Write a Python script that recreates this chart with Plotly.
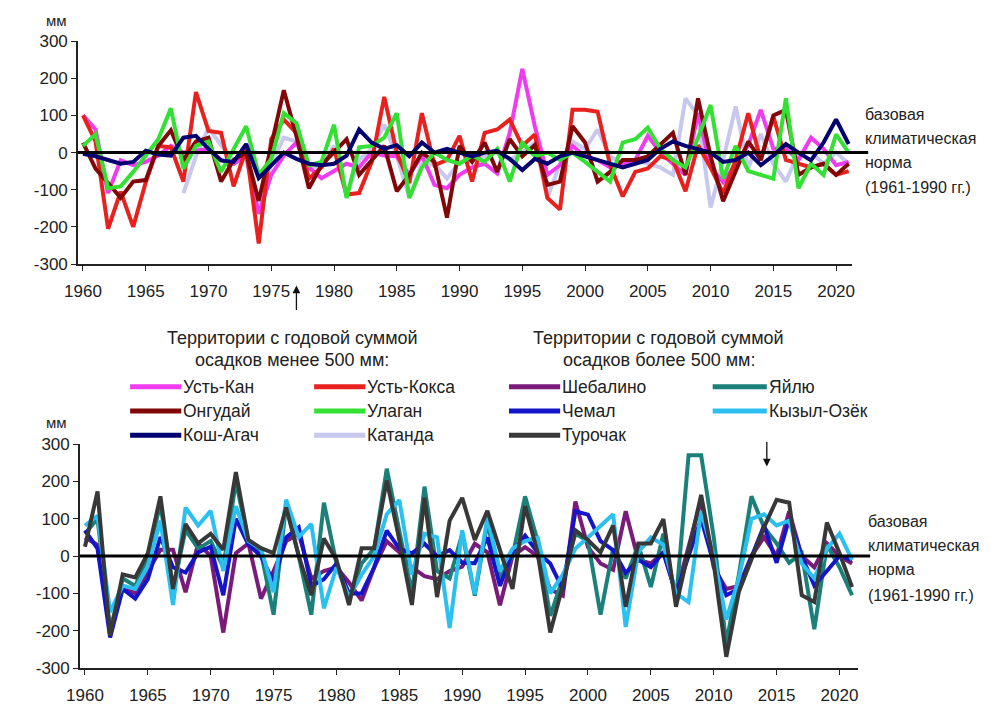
import plotly.graph_objects as go

years = list(range(1960, 2022))
tick_years = [1960, 1965, 1970, 1975, 1980, 1985, 1990, 1995, 2000, 2005, 2010, 2015, 2020]
y_ticks = [-300, -200, -100, 0, 100, 200, 300]
y_tick_text = ["-300", "-200", "-100", "0", "100", "200", "300"]

# ---- Territories < 500 mm (top panel) ----
ust_kan = [100, 62, -109, -21, -34, -25, -8, 18, 0, 5,
           10, -20, -30, -10, -165, -60, -8, 27, -40, -69,
           -50, -30, -40, 0, -8, -10, -60, -8, -87, -96,
           -60, -40, -30, -56, 53, 225, 71, -60, -34, 18,
           -10, -20, -40, -30, -20, 45, 0, -30, -60, 106,
           -40, -80, -30, 20, 115, 10, 10, -20, 40, 10,
           -34, -25]
ust_koksa = [100, 30, -205, -105, -200, -80, 18, 14, -78, 163,
             58, 53, -91, 10, -245, 36, 89, 53, -70, -40,
             10, -113, -109, -25, 150, 0, -82, 106, -34, -20,
             45, -78, 53, 62, 89, 18, 49, -122, -153, 115,
             115, 110, -34, -118, -52, -43, -10, -20, -104, 20,
             -40, -110, -20, 106, -20, 97, -20, -30, -40, -30,
             -60, -50]
ongudai = [27, -43, -82, -122, -78, -74, 18, 60, -20, 30,
           40, -78, -20, 0, -130, 18, 168, 45, -96, -34,
           0, 36, -60, -20, 18, -104, -60, 0, -25, -175,
           18, -25, 27, -52, 36, -10, 20, -87, -78, 71,
           27, -78, -52, -20, -20, -10, 20, 53, -60, 146,
           -10, -131, -50, 30, -20, 100, 115, -60, -40, -30,
           -60, -30]
ulagan = [18, 49, -96, -91, -52, -8, 36, 119, -43, 18,
          30, -52, 10, 71, -60, -17, 106, 80, -34, -25,
          75, -122, 14, 18, 40, 106, -122, -40, 0, -20,
          -30, -8, -25, 10, -78, 27, -10, 0, -20, 0,
          -25, -52, -78, 27, 36, 67, 10, -20, -40, 40,
          128, -70, 18, -50, -60, -70, 146, -96, -30, -60,
          49, 0]
kosh_agach = [-3, -10, -20, -30, -25, 5, -5, -8, 40, 45,
              10, -21, -25, 23, -69, -34, 0, -17, -30, -34,
              -30, -8, 62, 27, 10, 20, -10, 27, 0, 10,
              0, -10, 0, 5, -17, -47, -17, -30, -10, 0,
              -10, -20, -30, -40, -30, -20, 10, 30, 18, 10,
              0, -25, -20, 0, -34, -8, 23, 0, -21, 27,
              89, 23]
katanda = [None, None, None, None, None, None, None, None, -109, -10,
           67, 20, -20, -17, -160, -30, 40, 30, -43, -34,
           18, -118, -20, 10, 75, -8, -122, -30, -30, -70,
           -25, -20, -10, 0, -20, 0, 27, -122, -30, 30,
           10, 62, -10, -30, -20, -30, -40, -60, 146, 100,
           -148, -20, 124, -43, 50, -30, -78, 0, 0, -30,
           0, -30]

# ---- Territories > 500 mm (bottom panel) ----
shebalino = [50, 30, -200, -80, -100, -40, 17, 17, -97, 34,
             0, -205, 8, 34, -114, -40, 40, 60, -60, -40,
             -30, -71, -119, -30, 40, 10, -30, -54, -62, -40,
             -28, 33, 10, -132, 0, 24, 0, -89, -106, 146,
             24, -20, -37, 120, -10, -20, 10, -100, 20, 150,
             -30, -88, -80, 0, 51, 0, 120, 0, -30, 34,
             0, -20]
yaylyu = [60, 100, -200, -60, -80, 0, 140, -90, 70, 20,
          40, -30, 200, 40, 10, -157, 138, 0, -157, 143,
          -20, -114, -20, 20, 234, 60, -100, 186, -40, -60,
          60, -106, 90, -60, 0, 160, 40, -160, -60, 60,
          40, -157, 20, -60, 30, -83, 60, -120, 270, 270,
          51, -235, -50, 160, 77, 34, -18, 8, -196, 30,
          -30, -105]
chemal = [69, 20, -218, -88, -114, -62, 51, -30, -44, 10,
          25, -105, 100, 30, 0, -70, 50, 77, -80, -62,
          -20, -100, -100, -30, 68, 20, 7, 33, 0, 16,
          -18, -19, 50, -80, 10, 55, 10, -20, -89, 120,
          111, 40, 16, -45, -10, -30, 10, -100, 0, 100,
          -20, -105, -88, 0, 82, -18, 100, 0, -79, -40,
          0, -10]
kyzyl_ozek = [82, 108, -150, -79, -88, -27, 95, -131, 130, 82,
              121, -40, 134, 40, 20, -97, 151, 51, 86, -140,
              -30, -110, -50, 0, 112, 150, -50, 60, 50, -193,
              69, -102, 103, -40, 20, 40, 50, -100, -50, 20,
              50, 80, 112, -190, 10, 50, 30, -100, -123, 120,
              0, -170, -60, 100, 112, 82, 95, -20, -60, 20,
              60, -10]
turochak = [25, 173, -214, -49, -57, 8, 160, -88, 86, 34,
            60, 17, 225, 43, 21, 8, 130, 0, -105, 47,
            -10, -131, 21, 21, 203, 43, -131, 156, -110, 95,
            156, 43, 121, 20, -88, 134, 8, -205, -79, 69,
            43, 10, 82, -136, 34, 34, 99, -136, 10, 164,
            -20, -270, -96, -10, 77, 151, 143, -105, -123, 90,
            8, -83]

top_series = [
    ("Усть-Кан", ust_kan, "#F03CF0"),
    ("Усть-Кокса", ust_koksa, "#E8201E"),
    ("Онгудай", ongudai, "#800808"),
    ("Улаган", ulagan, "#33E033"),
    ("Кош-Агач", kosh_agach, "#000070"),
    ("Катанда", katanda, "#C8C8EE"),
]
bottom_series = [
    ("Шебалино", shebalino, "#7A1A7A"),
    ("Яйлю", yaylyu, "#1B807A"),
    ("Чемал", chemal, "#1414C8"),
    ("Кызыл-Озёк", kyzyl_ozek, "#2CC0F0"),
    ("Турочак", turochak, "#383838"),
]

W, H = 1004, 715
def px(x):
    return x / W
def py(y):
    return 1 - y / H

AX_FONT = "Liberation Sans, Arial, sans-serif"
NARROW = "Liberation Sans Narrow, Arial Narrow, Liberation Sans, sans-serif"

fig = go.Figure()
order_top = [5, 0, 1, 2, 3, 4]
for i in order_top:
    name, vals, col = top_series[i]
    fig.add_trace(go.Scatter(x=years, y=vals, name=name, mode="lines",
                             line=dict(color=col, width=4), xaxis="x", yaxis="y",
                             showlegend=False, connectgaps=False))
for name, vals, col in bottom_series:
    fig.add_trace(go.Scatter(x=years, y=vals, name=name, mode="lines",
                             line=dict(color=col, width=4), xaxis="x2", yaxis="y2",
                             showlegend=False))

axis_common = dict(showgrid=False, zeroline=False, showline=True, linecolor="#222",
                   linewidth=1.5, ticks="outside", ticklen=5, tickcolor="#222",
                   tickfont=dict(family=AX_FONT, size=17, color="#222"))

fig.update_layout(
    width=W, height=H,
    margin=dict(l=0, r=0, t=0, b=0),
    paper_bgcolor="white", plot_bgcolor="white",
    xaxis=dict(domain=[px(65), px(852)], range=[1959.6, 2021.3], anchor="y",
               tickvals=tick_years, ticklabelstandoff=6, **axis_common),
    yaxis=dict(domain=[py(262), py(33)], range=[-300, 300], anchor="x",
               tickvals=y_ticks, ticktext=y_tick_text, **axis_common),
    xaxis2=dict(domain=[px(67), px(858)], range=[1959.6, 2021.5], anchor="y2",
                tickvals=tick_years, ticklabelstandoff=6, **axis_common),
    yaxis2=dict(domain=[py(677), py(447)], range=[-300, 300], anchor="x2",
                tickvals=y_ticks, ticktext=y_tick_text, **axis_common),
)

shapes = []
shapes.append(dict(type="line", xref="paper", yref="y", x0=px(65), x1=px(868), y0=0, y1=0,
                   line=dict(color="black", width=3), layer="above"))
shapes.append(dict(type="line", xref="paper", yref="y2", x0=px(67), x1=px(870), y0=0, y1=0,
                   line=dict(color="black", width=3), layer="above"))

annotations = []
def text(x, y, s, size=16, family=AX_FONT, anchor="left", color="#222"):
    annotations.append(dict(x=px(x), y=py(y), xref="paper", yref="paper", text=s,
                            showarrow=False, xanchor=anchor, yanchor="middle",
                            font=dict(family=family, size=size, color=color)))

text(30, 12, "мм", size=15)
text(30, 425, "мм", size=15)

for yy, s in zip([108, 133, 158, 183], ["базовая", "климатическая", "норма", "(1961-1990 гг.)"]):
    text(863, yy, s, size=16)
for yy, s in zip([527, 551, 576, 602], ["базовая", "климатическая", "норма", "(1961-1990 гг.)"]):
    text(866, yy, s, size=16)

text(283, 338, "Территории с годовой суммой", size=18, family=NARROW, anchor="center")
text(283, 361, "осадков менее 500 мм:", size=18, family=NARROW, anchor="center")
text(655, 338, "Территории с годовой суммой", size=18, family=NARROW, anchor="center")
text(655, 361, "осадков более 500 мм:", size=18, family=NARROW, anchor="center")

legend_cols = [(118, 170), (305, 357), (503, 555), (710, 765)]
legend_rows = [388, 413, 438]
legend_layout = [
    (top_series[0], 0, 0), (top_series[1], 0, 1), (bottom_series[0], 0, 2), (bottom_series[1], 0, 3),
    (top_series[2], 1, 0), (top_series[3], 1, 1), (bottom_series[2], 1, 2), (bottom_series[3], 1, 3),
    (top_series[4], 2, 0), (top_series[5], 2, 1), (bottom_series[4], 2, 2),
]
for (name, _, col), r, c in legend_layout:
    x0, x1 = legend_cols[c]
    yy = legend_rows[r]
    shapes.append(dict(type="line", xref="paper", yref="paper", x0=px(x0), x1=px(x1),
                       y0=py(yy), y1=py(yy), line=dict(color=col, width=5)))
    text(x1, yy, name, size=17.5, family=NARROW)

annotations.append(dict(x=px(287), y=py(284), xref="paper", yref="paper", ax=0, ay=26,
                        axref="pixel", ayref="pixel", showarrow=True, arrowhead=2,
                        arrowsize=1.2, arrowwidth=1.3, arrowcolor="#111", text=""))
annotations.append(dict(x=px(765), y=py(470), xref="paper", yref="paper", ax=0, ay=-26,
                        axref="pixel", ayref="pixel", showarrow=True, arrowhead=2,
                        arrowsize=1.2, arrowwidth=1.3, arrowcolor="#111", text=""))

fig.update_layout(shapes=shapes, annotations=annotations)
fig.write_html("out.html")
